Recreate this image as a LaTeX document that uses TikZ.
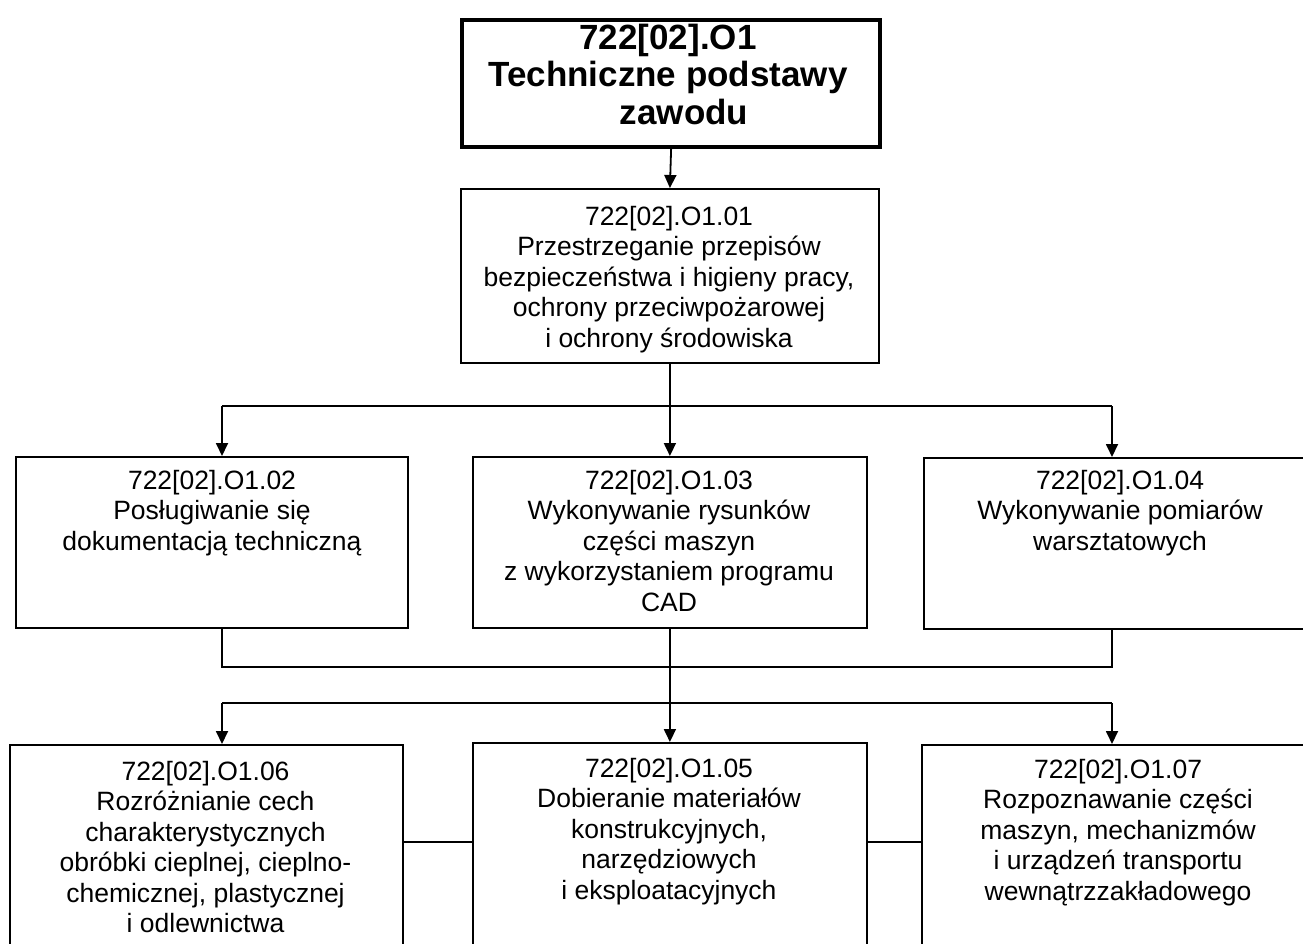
\documentclass[tikz,border=0pt]{standalone}
\usepackage{fontspec}
\setmainfont{Liberation Sans}
\usetikzlibrary{arrows.meta}
\begin{document}
\begin{tikzpicture}[x=1pt,y=-1pt,
  box/.style={draw=black,line width=1.8pt,inner sep=0pt,anchor=north west},
  titlebox/.style={draw=black,line width=4.2pt,inner sep=0pt,anchor=north west},
  txt/.style={inner sep=0pt,anchor=north,align=center,font=\fontsize{26.5}{30.5}\selectfont},
  titletxt/.style={inner sep=0pt,anchor=north,align=center,font=\fontsize{35}{37.5}\selectfont\bfseries},
  conn/.style={draw=black,line width=1.8pt},
  arr/.style={conn,-{Triangle[width=12pt,length=13pt]}}]
\useasboundingbox (0,0) rectangle (1303,943);
\clip (0,0) rectangle (1303,943);
\fill[white] (0,0) rectangle (1303,943);
% boxes
\node[titlebox,minimum width=418pt,minimum height=127pt] (top) at (460,18) {};
\node[box,minimum width=418pt,minimum height=174pt] (b1) at (460,188) {};
\node[box,minimum width=392pt,minimum height=171pt] (b2) at (15,456) {};
\node[box,minimum width=394pt,minimum height=171pt] (b3) at (472,456) {};
\node[box,minimum width=398pt,minimum height=171pt] (b4) at (923,457) {};
\node[box,minimum width=394pt,minimum height=260pt] (b5) at (472,742) {};
\node[box,minimum width=393pt,minimum height=260pt] (b6) at (9,744) {};
\node[box,minimum width=394pt,minimum height=260pt] (b7) at (921,744) {};
% texts
\node[titletxt] (ttop) at (668,23.5) {722[02].O1\\Techniczne podstawy\\\hspace*{32pt}zawodu};
\node[txt] (t1) at (669,205.7) {722[02].O1.01\\Przestrzeganie przepisów\\bezpieczeństwa i higieny pracy,\\ochrony przeciwpożarowej\\i ochrony środowiska};
\node[txt] (t2) at (212,469.7) {722[02].O1.02\\Posługiwanie się\\dokumentacją techniczną};
\node[txt] (t3) at (669,469.7) {722[02].O1.03\\Wykonywanie rysunków\\części maszyn\\z wykorzystaniem programu\\CAD};
\node[txt] (t4) at (1120,469.7) {722[02].O1.04\\Wykonywanie pomiarów\\warsztatowych};
\node[txt] (t5) at (669,757.7) {722[02].O1.05\\Dobieranie materiałów\\konstrukcyjnych,\\narzędziowych\\i eksploatacyjnych};
\node[txt] (t6) at (205.5,760.7) {722[02].O1.06\\Rozróżnianie cech\\charakterystycznych\\obróbki cieplnej, cieplno-\\chemicznej, plastycznej\\i odlewnictwa};
\node[txt] (t7) at (1118,758.7) {722[02].O1.07\\Rozpoznawanie części\\maszyn, mechanizmów\\i urządzeń transportu\\wewnątrzzakładowego};
% junction coordinates
\coordinate (hL) at (222,406);
\coordinate (hR) at (1112,406);
\coordinate (mL) at (222,667);
\coordinate (mR) at (1112,667);
\coordinate (nL) at (222,703);
\coordinate (nR) at (1112,703);
\coordinate (s) at (0,842);
% connectors
\draw[arr] (top.south) -- (b1.north);
\draw[conn] (b1.south) -- (b1.south |- hL);
\draw[conn] (hL) -- (hR);
\draw[arr] (hL) -- (hL |- b2.north);
\draw[arr] (b1.south |- hL) -- (b3.north);
\draw[arr] (hR) -- (hR |- b4.north);
\draw[conn] (b2.south -| mL) -- (mL) -- (mR) -- (b4.south -| mR);
\draw[conn] (b3.south) -- (b3.south |- nL);
\draw[conn] (nL) -- (nR);
\draw[arr] (nL) -- (nL |- b6.north);
\draw[arr] (b3.south |- nL) -- (b5.north);
\draw[arr] (nR) -- (nR |- b7.north);
\draw[conn] (b6.north east |- s) -- (b5.north west |- s);
\draw[conn] (b5.north east |- s) -- (b7.north west |- s);
\end{tikzpicture}
\end{document}
